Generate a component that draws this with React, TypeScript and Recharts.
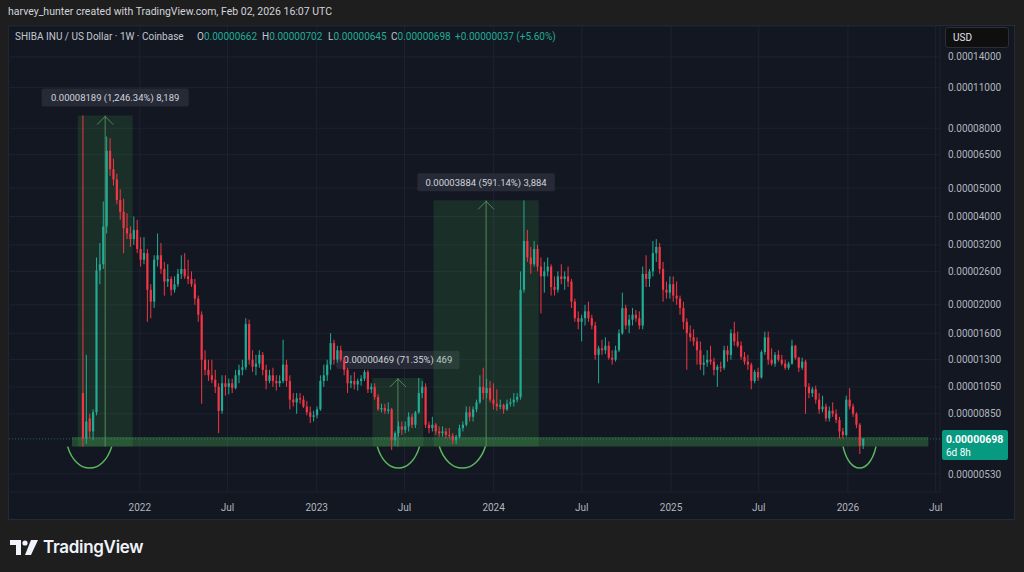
import React from 'react';
import { ComposedChart, Bar, XAxis, YAxis, CartesianGrid, ReferenceArea, ReferenceLine } from 'recharts';

// weekly candles for SHIB/USD (Coinbase), prices in 1e-8 USD: [open, high, low, close]
const y2021 = [
  [1000, 8840, 657, 700], [700, 1350, 670, 800], [820, 850, 700, 740], [740, 880, 690, 860],
  [860, 2900, 840, 2620], [2620, 3250, 2350, 2750], [2750, 4500, 2650, 3700], [3700, 7500, 3500, 6700],
  [6700, 7400, 5500, 5800], [5800, 6300, 5100, 5350], [5350, 5600, 4400, 4550], [4550, 4950, 3900, 4150],
  [4150, 4600, 3000, 3650], [3650, 4100, 3350, 3500], [3500, 3700, 3150, 3350], [3350, 4000, 3200, 3600],
  [3600, 3900, 3000, 3100],
];
const y2022 = [
  [3100, 3400, 2700, 2850], [2850, 3400, 2750, 3000], [3000, 3100, 1750, 2250], [2250, 2350, 1800, 2050],
  [2050, 2950, 1950, 2850], [2850, 3500, 2700, 2950], [2950, 3250, 2550, 2650], [2650, 2800, 2150, 2400],
  [2400, 2750, 2300, 2450], [2450, 2500, 2150, 2250], [2250, 2500, 2200, 2350], [2350, 2650, 2300, 2550],
  [2550, 2950, 2450, 2650], [2650, 3000, 2450, 2500], [2500, 2850, 2350, 2450], [2450, 2600, 2300, 2350],
  [2350, 2450, 2000, 2100], [2100, 2150, 1750, 1850], [1850, 1900, 920, 1300], [1300, 1400, 1150, 1200],
  [1200, 1300, 1100, 1150], [1150, 1300, 1080, 1110], [1110, 1200, 1000, 1050], [1050, 1080, 730, 870],
  [870, 1150, 850, 1080], [1080, 1150, 980, 1050], [1050, 1120, 990, 1080], [1080, 1120, 1000, 1040],
  [1040, 1200, 1030, 1150], [1150, 1250, 1080, 1200], [1200, 1300, 1150, 1225], [1225, 1800, 1200, 1720],
  [1720, 1780, 1250, 1300], [1300, 1400, 1180, 1230], [1230, 1350, 1150, 1260], [1260, 1400, 1220, 1350],
  [1350, 1380, 1150, 1200], [1200, 1250, 1030, 1100], [1100, 1200, 1080, 1150], [1150, 1220, 1050, 1100],
  [1100, 1150, 1020, 1080], [1080, 1150, 1050, 1100], [1100, 1520, 1080, 1250], [1250, 1300, 1050, 1100],
  [1100, 1150, 880, 950], [950, 1000, 900, 930], [930, 1000, 850, 960], [960, 1000, 920, 950],
  [950, 980, 890, 900], [900, 940, 840, 860], [860, 900, 790, 830], [830, 870, 800, 840],
];
const y2023 = [
  [840, 900, 820, 880], [880, 1150, 870, 1100], [1100, 1250, 1050, 1150], [1150, 1300, 1100, 1250],
  [1250, 1600, 1200, 1480], [1480, 1520, 1250, 1300], [1300, 1450, 1270, 1400], [1400, 1450, 1280, 1300],
  [1300, 1330, 1150, 1200], [1200, 1220, 1000, 1080], [1080, 1150, 1040, 1100], [1100, 1180, 1030, 1070],
  [1070, 1120, 1020, 1100], [1100, 1150, 1060, 1120], [1120, 1200, 1100, 1180], [1180, 1200, 1000, 1030],
  [1030, 1080, 1000, 1050], [1050, 1080, 950, 970], [970, 990, 870, 880], [880, 920, 860, 890],
  [890, 920, 850, 870], [870, 930, 850, 880], [880, 890, 640, 690], [690, 740, 660, 730],
  [730, 800, 710, 770], [770, 800, 720, 750], [750, 800, 730, 770], [770, 860, 740, 830],
  [830, 850, 760, 780], [780, 870, 760, 860], [860, 1126, 850, 1000], [1000, 1100, 960, 1050],
  [1050, 1080, 760, 780], [780, 800, 730, 760], [760, 830, 740, 780], [780, 790, 720, 740],
  [740, 770, 710, 730], [730, 770, 710, 740], [740, 760, 700, 720], [720, 760, 700, 715],
  [715, 730, 670, 690], [690, 720, 670, 710], [710, 780, 700, 760], [760, 800, 740, 780],
  [780, 900, 770, 860], [860, 900, 800, 830], [830, 900, 800, 880], [880, 950, 860, 930],
  [930, 1150, 920, 1050], [1050, 1220, 950, 1000], [1000, 1120, 960, 1040], [1040, 1100, 930, 950],
];
const y2024 = [
  [950, 1080, 880, 920], [920, 1030, 870, 900], [900, 950, 880, 910], [910, 920, 850, 880],
  [880, 950, 870, 920], [920, 960, 900, 930], [930, 1000, 900, 950], [950, 1000, 930, 970],
  [970, 2600, 950, 2250], [2250, 4541, 2200, 3300], [3300, 3600, 2800, 2900], [2900, 3150, 2550, 2750],
  [2750, 3300, 2700, 3100], [3100, 3200, 2600, 2700], [2700, 2900, 1870, 2500], [2500, 2800, 2200, 2600],
  [2600, 2900, 2500, 2700], [2700, 2750, 2150, 2300], [2300, 2500, 2150, 2250], [2250, 2600, 2200, 2500],
  [2500, 2750, 2350, 2450], [2450, 2600, 2250, 2500], [2500, 2700, 2300, 2400], [2400, 2450, 1950, 2050],
  [2050, 2100, 1750, 1800], [1800, 1900, 1650, 1750], [1750, 1850, 1500, 1800], [1800, 2000, 1700, 1900],
  [1900, 2050, 1750, 1800], [1800, 1850, 1650, 1700], [1700, 1750, 1300, 1350], [1350, 1450, 1080, 1420],
  [1420, 1520, 1350, 1400], [1400, 1550, 1360, 1450], [1450, 1500, 1300, 1320], [1320, 1400, 1250, 1300],
  [1300, 1450, 1280, 1400], [1400, 1650, 1380, 1600], [1600, 2200, 1580, 1950], [1950, 2000, 1650, 1700],
  [1700, 1850, 1600, 1780], [1780, 1950, 1700, 1850], [1850, 1920, 1750, 1800], [1800, 1900, 1650, 1700],
  [1700, 2700, 1650, 2550], [2550, 2950, 2300, 2450], [2450, 2650, 2300, 2600], [2600, 3300, 2500, 3000],
  [3000, 3350, 2800, 3150], [3150, 3250, 2550, 2650], [2650, 2800, 2050, 2250], [2250, 2400, 2100, 2200],
  [2200, 2500, 2100, 2350],
];
const y2025 = [
  [2350, 2500, 2050, 2150], [2150, 2400, 2000, 2100], [2100, 2150, 1850, 1950], [1950, 2050, 1650, 1750],
  [1750, 1800, 1200, 1600], [1600, 1700, 1500, 1550], [1550, 1650, 1450, 1500], [1500, 1550, 1250, 1400],
  [1400, 1500, 1200, 1250], [1250, 1350, 1150, 1270], [1270, 1400, 1230, 1300], [1300, 1450, 1250, 1280],
  [1280, 1320, 1150, 1200], [1200, 1250, 1050, 1230], [1230, 1280, 1180, 1220], [1220, 1450, 1200, 1400],
  [1400, 1450, 1280, 1350], [1350, 1650, 1300, 1600], [1600, 1750, 1450, 1500], [1500, 1620, 1430, 1450],
  [1450, 1500, 1300, 1330], [1330, 1380, 1250, 1280], [1280, 1350, 1200, 1250], [1250, 1270, 1030, 1100],
  [1100, 1200, 1080, 1180], [1180, 1220, 1100, 1130], [1130, 1400, 1120, 1380], [1380, 1620, 1350, 1550],
  [1550, 1620, 1250, 1300], [1300, 1420, 1240, 1260], [1260, 1380, 1230, 1350], [1350, 1400, 1280, 1300],
  [1300, 1350, 1240, 1260], [1260, 1300, 1200, 1220], [1220, 1280, 1200, 1260], [1260, 1520, 1250, 1450],
  [1450, 1460, 1300, 1320], [1320, 1330, 1180, 1220], [1220, 1320, 1200, 1280], [1280, 1300, 850, 1050],
  [1050, 1080, 960, 1000], [1000, 1050, 970, 1030], [1030, 1060, 920, 950], [950, 1000, 850, 880],
  [880, 980, 860, 900], [900, 920, 800, 820], [820, 900, 800, 870], [870, 930, 830, 850],
  [850, 880, 790, 810], [810, 830, 700, 740], [740, 760, 700, 720], [720, 980, 710, 950],
];
const y2026 = [
  [950, 1040, 880, 900], [900, 920, 830, 850], [850, 860, 760, 780], [780, 790, 620, 662],
  [662, 702, 645, 698],
];

const firstWeek = '2021-09-06';
const xRange = ['2021-04-04', '2026-07-10'];
const xTicks = [
  ['2022-01-01', '2022'], ['2022-07-01', 'Jul'], ['2023-01-01', '2023'], ['2023-07-01', 'Jul'],
  ['2024-01-01', '2024'], ['2024-07-01', 'Jul'], ['2025-01-01', '2025'], ['2025-07-01', 'Jul'],
  ['2026-01-01', '2026'], ['2026-07-01', 'Jul'],
];
const priceTicks = [530, 850, 1050, 1300, 1600, 2000, 2600, 3200, 4000, 5000, 6500, 8000, 11000, 14000];
const priceRange = [460, 17850];

const boxes = [
  { from: '2021-08-26', to: '2021-12-17', low: 657, high: 8840, text: '0.00008189 (1,246.34%) 8,189', dx: 10 },
  { from: '2023-04-26', to: '2023-08-09', low: 657, high: 1126, text: '0.00000469 (71.35%) 469', dx: 0 },
  { from: '2023-08-30', to: '2024-04-03', low: 657, high: 4541, text: '0.00003884 (591.14%) 3,884', dx: 0 },
];
const smiles = [
  ['2021-08-05', '2021-11-04'], ['2023-05-06', '2023-08-01'],
  ['2023-09-11', '2023-12-15'], ['2025-12-22', '2026-02-28'],
];
const smileLow = 555;
const zone = { from: '2021-08-14', to: '2026-06-16', low: 657, high: 708 };
const lastPrice = 698;

const UP = '#22ab94';
const DOWN = '#f23645';
const AXIS_TEXT = '#b2b5be';

const t0 = Date.parse(firstWeek);
const day = (s: string) => (Date.parse(s) - t0) / 86400000;
const tickLabel: Record<number, string> = {};
xTicks.forEach(([d, l]) => (tickLabel[day(d)] = l));

const candles = [...y2021, ...y2022, ...y2023, ...y2024, ...y2025, ...y2026].map(([o, h, l, c], i) => ({
  d: i * 7, o, h, l, c, hl: [l, h],
}));

function Candle(props: any) {
  const { x, y, width, height, payload } = props;
  if (!payload) return null;
  const { o, h, l, c } = payload;
  const top = Math.min(y, y + height);
  const span = Math.abs(height);
  const lh = Math.log(h), ll = Math.log(l);
  const py = (p: number) => top + ((lh - Math.log(p)) / (lh - ll)) * span;
  const cx = x + width / 2;
  const col = c >= o ? UP : DOWN;
  const b1 = py(Math.max(o, c)), b2 = py(Math.min(o, c));
  return (
    <g>
      <line x1={cx} x2={cx} y1={top} y2={top + span} stroke={col} strokeWidth={1} />
      <rect x={cx - 1.1} y={b1} width={2.2} height={Math.max(1, b2 - b1)} fill={col} />
    </g>
  );
}

function MeasureBox(props: any) {
  const { x, y, width, height, text, dx } = props;
  const cx = x + width / 2;
  const w = text.length * 4.75 + 14;
  return (
    <g>
      <rect x={x} y={y} width={width} height={height} fill="#4caf50" fillOpacity={0.16} />
      <line x1={cx} y1={y + height} x2={cx} y2={y} stroke="#5e9d66" strokeOpacity={0.8} />
      <polyline points={`${cx - 8},${y + 9} ${cx},${y + 1} ${cx + 8},${y + 9}`} fill="none" stroke="#5e9d66" strokeOpacity={0.8} />
      <rect x={cx + dx - w / 2} y={y - 27} width={w} height={18} rx={2} fill="#2a2e39" fillOpacity={0.85} />
      <text x={cx + dx} y={y - 14.5} textAnchor="middle" fontSize={9.5} fill="#d1d4dc" fontFamily="Roboto">
        {text}
      </text>
    </g>
  );
}

function Smile(props: any) {
  const { x, y, width, height } = props;
  const yc = (y + height - 0.25 * y) / 0.75;
  const d = `M${x},${y} C${x + width * 0.2},${yc} ${x + width * 0.8},${yc} ${x + width},${y}`;
  return <path d={d} fill="none" stroke="#5cb85f" strokeWidth={1.5} />;
}

function PriceTag(props: any) {
  const vb = props.viewBox || {};
  const left = vb.x + vb.width + 2;
  const yy = vb.y;
  return (
    <g fontFamily="Roboto">
      <rect x={left} y={yy - 9} width={66} height={30} rx={2} fill="#089981" />
      <text x={left + 4} y={yy + 4} fontSize={10.5} fontWeight={700} fill="#ffffff">
        {(lastPrice / 1e8).toFixed(8)}
      </text>
      <text x={left + 4} y={yy + 17} fontSize={10} fill="#ffffff">6d 8h</text>
    </g>
  );
}

function Logo() {
  return (
    <div style={{ position: 'absolute', left: 10, top: 537, display: 'flex', alignItems: 'center', gap: 5 }}>
      <svg width={28} height={15} viewBox="0 0 28 15">
        <path d="M0 0 H11 V15 H6 V5 H0 Z" fill="#f0f3fa" />
        <circle cx={15} cy={3} r={2.6} fill="#f0f3fa" />
        <path d="M21 0 H28 L21 15 H15 Z" fill="#f0f3fa" />
      </svg>
      <span style={{ fontFamily: 'Inter', fontWeight: 600, fontSize: 17, color: '#f0f3fa', letterSpacing: -0.3 }}>
        TradingView
      </span>
    </div>
  );
}

const legendItems = [
  { x: 15, k: 'SHIBA INU / US Dollar · 1W · Coinbase', v: '' },
  { x: 197, k: 'O', v: '0.00000662' },
  { x: 262, k: 'H', v: '0.00000702' },
  { x: 328, k: 'L', v: '0.00000645' },
  { x: 391, k: 'C', v: '0.00000698' },
  { x: 455, k: '', v: '+0.00000037 (+5.60%)' },
];

export default function App() {
  return (
    <div style={{ position: 'absolute', left: 0, top: 0, width: 1024, height: 572, background: '#1e1e1e', overflow: 'hidden', fontFamily: 'Roboto' }}>
      <div style={{ position: 'absolute', left: 8, top: 5, fontSize: 10.5, color: '#d1d4dc' }}>
        harvey_hunter created with TradingView.com, Feb 02, 2026 16:07 UTC
      </div>
      <div style={{ position: 'absolute', left: 8, top: 25, width: 1007, height: 495, background: '#131722', border: '1px solid #262a35', boxSizing: 'border-box' }} />
      <div style={{ position: 'absolute', left: 8, top: 25 }}>
        <ComposedChart width={1008} height={495} data={candles} margin={{ top: 1, right: 0, bottom: 0, left: 0 }}>
          <CartesianGrid stroke="#1e2230" />
          <XAxis
            dataKey="d"
            type="number"
            domain={[day(xRange[0]), day(xRange[1])]}
            allowDataOverflow
            ticks={xTicks.map((t) => day(t[0]))}
            tickFormatter={(v: number) => tickLabel[v] ?? ''}
            tick={{ fill: AXIS_TEXT, fontSize: 10 }}
            tickLine={false}
            axisLine={false}
            height={28}
            tickMargin={6}
          />
          <YAxis
            orientation="right"
            scale="log"
            type="number"
            domain={priceRange}
            allowDataOverflow
            ticks={priceTicks}
            tickFormatter={(v: number) => (v / 1e8).toFixed(8)}
            tick={{ fill: AXIS_TEXT, fontSize: 10, textAnchor: 'start' }}
            tickLine={false}
            axisLine={false}
            width={76}
          />
          <Bar dataKey="hl" barSize={3} shape={<Candle />} isAnimationActive={false} />
          <ReferenceArea
            x1={day(zone.from)}
            x2={day(zone.to)}
            y1={zone.low}
            y2={zone.high}
            fill="#4caf50"
            fillOpacity={0.32}
            stroke="none"
          />
          {boxes.map((b) => (
            <ReferenceArea
              key={b.text}
              x1={day(b.from)}
              x2={day(b.to)}
              y1={b.low}
              y2={b.high}
              shape={(p: any) => <MeasureBox {...p} text={b.text} dx={b.dx} />}
            />
          ))}
          {smiles.map(([a, z]) => (
            <ReferenceArea key={a} x1={day(a)} x2={day(z)} y1={smileLow} y2={zone.low} shape={(p: any) => <Smile {...p} />} />
          ))}
          <ReferenceLine y={lastPrice} stroke="#22ab94" strokeOpacity={0.55} strokeDasharray="1 2" label={<PriceTag />} />
        </ComposedChart>
      </div>
      {legendItems.map((it) => (
        <div key={it.x} style={{ position: 'absolute', left: it.x, top: 31, fontSize: 10, whiteSpace: 'nowrap' }}>
          <span style={{ color: '#c4c7cf' }}>{it.k}</span>
          <span style={{ color: UP }}>{it.v}</span>
        </div>
      ))}
      <div style={{ position: 'absolute', left: 945, top: 27, width: 64, height: 21, background: '#0f0f0f', border: '1px solid #2a2e39', borderRadius: 3, boxSizing: 'border-box', color: '#e0e3eb', fontSize: 10, lineHeight: '19px', paddingLeft: 7 }}>
        USD
      </div>
      <Logo />
    </div>
  );
}
